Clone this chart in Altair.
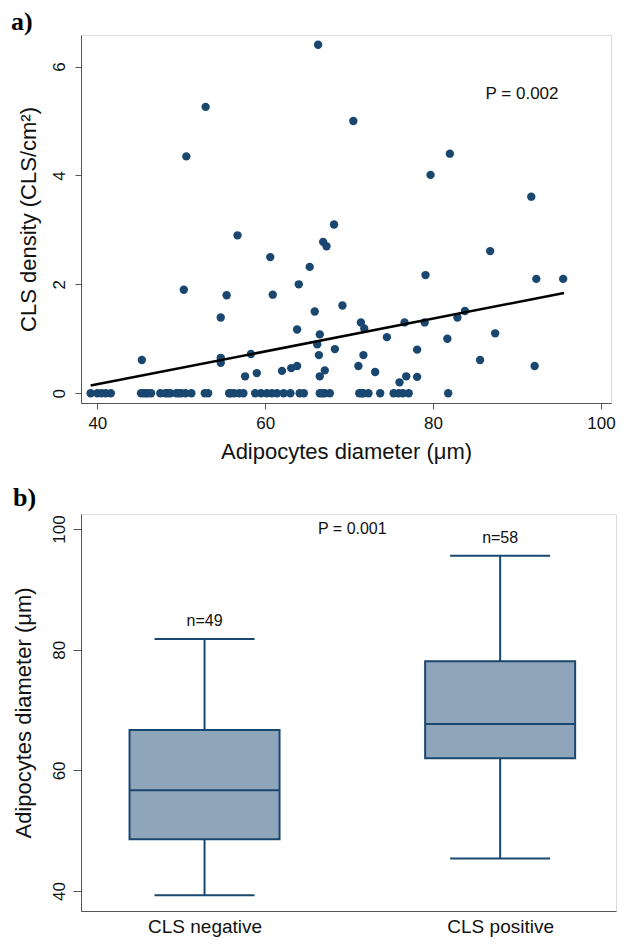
import altair as alt
import pandas as pd

# ---------------- Panel a data ----------------
# CLS-positive subjects: adipocyte diameter (µm) and CLS density (CLS/cm2)
pos_diam = [52.9, 50.6, 66.3, 70.5, 79.7, 82.0, 91.7, 56.7, 50.3, 55.4,
            54.7, 45.3, 54.7, 54.7, 58.3, 57.6, 59.0, 68.2, 66.9, 67.3,
            60.6, 65.3, 64.0, 60.9, 79.1, 69.2, 65.9, 71.4, 71.8, 76.6,
            79.0, 63.8, 66.5, 66.2, 74.5, 68.3, 66.4, 71.7, 78.1, 62.0,
            63.1, 63.8, 67.1, 66.5, 71.1, 73.1, 76.8, 76.0, 78.1, 86.8,
            92.3, 95.5, 83.8, 82.9, 81.7, 87.4, 85.6, 92.1]
pos_density = [5.26, 4.35, 6.40, 5.00, 4.01, 4.40, 3.61, 2.90, 1.90, 1.80,
               1.39, 0.61, 0.65, 0.56, 0.72, 0.31, 0.37, 3.10, 2.78, 2.70,
               2.50, 2.32, 2.00, 1.81, 2.17, 1.61, 1.50, 1.30, 1.19, 1.30,
               1.30, 1.17, 1.08, 0.90, 1.03, 0.81, 0.70, 0.70, 0.80, 0.41,
               0.46, 0.50, 0.42, 0.31, 0.50, 0.39, 0.31, 0.20, 0.30, 2.61,
               2.10, 2.10, 1.51, 1.39, 1.00, 1.10, 0.61, 0.50]
# CLS-negative subjects (density 0)
neg_diam = [39.2, 40.0, 40.5, 41.0, 41.6, 45.2, 45.5, 45.8, 46.0, 46.4,
            47.5, 48.1, 48.4, 48.7, 49.4, 49.7, 50.0, 50.5, 51.2, 52.8,
            53.2, 55.7, 55.9, 56.3, 56.9, 57.4, 58.8, 59.5, 60.2, 60.8,
            61.4, 62.2, 63.0, 64.1, 64.6, 66.5, 66.8, 67.1, 67.7, 71.2,
            71.5, 71.7, 72.3, 73.7, 75.3, 75.9, 76.4, 77.1, 81.8]

# fitted regression line at its two ends
fit_diam = [39.2, 95.6]
fit_density = [0.14, 1.84]

# ---------------- Panel b data ----------------
groups = ["CLS negative", "CLS positive"]
group_pos = [1, 2]
box_low = [39.3, 45.4]
box_q1 = [48.6, 62.0]
box_med = [56.7, 67.7]
box_q3 = [66.7, 78.1]
box_high = [81.8, 95.6]
group_n = [49, 58]

NAVY = "#1A476F"
BOXFILL = "#8FA5BA"
AXISCOL = "#555555"
FONT = "Liberation Sans"

scatter_df = pd.DataFrame({
    "diam": neg_diam + pos_diam,
    "density": [0.0] * len(neg_diam) + pos_density,
})
fit_df = pd.DataFrame({"diam": fit_diam, "density": fit_density})
pa_df = pd.DataFrame({"diam": [90.6], "density": [5.5], "label": ["P = 0.002"]})

xa = alt.X("diam:Q",
           scale=alt.Scale(domain=[38.05, 101.2], nice=False, zero=False),
           axis=alt.Axis(values=[40, 60, 80, 100], title="Adipocytes diameter (\u03bcm)",
                         tickSize=6, labelPadding=6, titlePadding=10,
                         labelFontSize=17, titleFontSize=22, grid=False,
                         domainColor=AXISCOL, tickColor=AXISCOL,
                         labelColor="#111111", titleColor="#111111",
                         titleFontWeight="normal", labelFont=FONT, titleFont=FONT))
ya = alt.Y("density:Q",
           scale=alt.Scale(domain=[-0.18, 6.58], nice=False, zero=False),
           axis=alt.Axis(values=[0, 2, 4, 6], format="d", title="CLS density (CLS/cm\u00b2)",
                         tickSize=6, labelPadding=7, labelAngle=270,
                         labelAlign="center", labelBaseline="bottom",
                         titleX=-41, labelFontSize=17, titleFontSize=22, grid=False,
                         domainColor=AXISCOL, tickColor=AXISCOL,
                         labelColor="#111111", titleColor="#111111",
                         titleFontWeight="normal", labelFont=FONT, titleFont=FONT))

pts = alt.Chart(scatter_df).mark_circle(size=70, opacity=1, color=NAVY).encode(x=xa, y=ya)
fit = alt.Chart(fit_df).mark_line(color="black", strokeWidth=2.5).encode(x="diam:Q", y="density:Q")
ptxt = alt.Chart(pa_df).mark_text(font=FONT, fontSize=17, color="#111111",
                                  align="center", baseline="middle").encode(
    x="diam:Q", y="density:Q", text="label:N")

panel_a = alt.layer(pts, fit, ptxt).properties(
    width=530, height=368,
    title=alt.Title("a)", anchor="start", frame="group", dx=-70, offset=0,
                    font="Liberation Serif", fontSize=26, fontWeight="bold", color="black"))

box_df = pd.DataFrame({
    "group": groups, "pos": group_pos, "low": box_low, "q1": box_q1,
    "med": box_med, "q3": box_q3, "high": box_high,
    "nlabel": ["n=" + str(n) for n in group_n],
})
pb_df = pd.DataFrame({"pos": [1.5], "y": [100.0], "label": ["P = 0.001"]})

label_expr = "datum.value == 1 ? '%s' : '%s'" % (groups[0], groups[1])
xb = alt.X("pos:Q",
           scale=alt.Scale(domain=[0.599, 2.375], nice=False, zero=False),
           axis=alt.Axis(values=[1, 2], labelExpr=label_expr, ticks=False, title=None,
                         labelPadding=6, labelFontSize=19, grid=False,
                         domainColor=AXISCOL, labelColor="#111111", labelFont=FONT))
yb = alt.Y("low:Q",
           scale=alt.Scale(domain=[36.7, 102.5], nice=False, zero=False),
           axis=alt.Axis(values=[40, 60, 80, 100], title="Adipocytes diameter (\u03bcm)",
                         tickSize=8, labelPadding=5, labelAngle=270,
                         labelAlign="center", labelBaseline="bottom",
                         titleX=-46, labelFontSize=17, titleFontSize=22, grid=False,
                         domainColor=AXISCOL, tickColor=AXISCOL,
                         labelColor="#111111", titleColor="#111111",
                         titleFontWeight="normal", labelFont=FONT, titleFont=FONT))

bb = alt.Chart(box_df)
whisk = bb.mark_rule(color=NAVY, strokeWidth=2).encode(x=xb, y=yb, y2="high:Q")
caps_lo = bb.mark_tick(orient="horizontal", size=100, thickness=2, color=NAVY, opacity=1).encode(
    x="pos:Q", y="low:Q")
caps_hi = bb.mark_tick(orient="horizontal", size=100, thickness=2, color=NAVY, opacity=1).encode(
    x="pos:Q", y="high:Q")
boxes = bb.mark_bar(size=150, fill=BOXFILL, stroke=NAVY, strokeWidth=2, opacity=1).encode(
    x="pos:Q", y="q1:Q", y2="q3:Q")
meds = bb.mark_tick(orient="horizontal", size=150, thickness=2, color=NAVY, opacity=1).encode(
    x="pos:Q", y="med:Q")
ntxt = bb.mark_text(font=FONT, fontSize=16, color="#111111", baseline="middle", dy=-18).encode(
    x="pos:Q", y="high:Q", text="nlabel:N")
ptxt_b = alt.Chart(pb_df).mark_text(font=FONT, fontSize=16, color="#111111",
                                    baseline="middle").encode(
    x="pos:Q", y="y:Q", text="label:N")

panel_b = alt.layer(whisk, caps_lo, caps_hi, boxes, meds, ntxt, ptxt_b).properties(
    width=535, height=397,
    title=alt.Title("b)", anchor="start", frame="group", dx=-68, offset=3,
                    font="Liberation Serif", fontSize=26, fontWeight="bold", color="black"))

chart = alt.vconcat(panel_a, panel_b, spacing=21).properties(
    padding={"left": 2, "top": 0, "right": 0, "bottom": 0}
).configure_view(strokeWidth=0).configure(background="white")

chart.save("out.html", embed_options={"renderer": "svg", "actions": False})
